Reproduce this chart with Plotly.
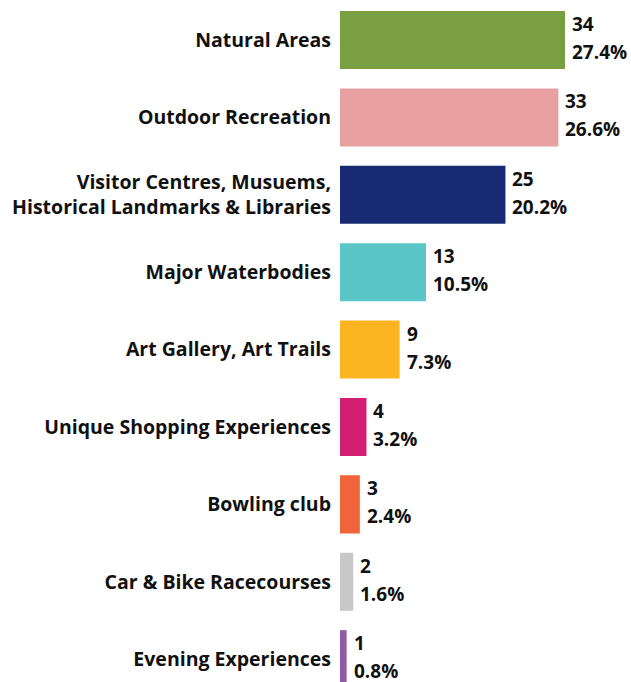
import plotly.graph_objects as go

categories = [
    "Natural Areas",
    "Outdoor Recreation",
    "Visitor Centres, Musuems,<br>Historical Landmarks & Libraries",
    "Major Waterbodies",
    "Art Gallery, Art Trails",
    "Unique Shopping Experiences",
    "Bowling club",
    "Car & Bike Racecourses",
    "Evening Experiences",
]
counts = [34, 33, 25, 13, 9, 4, 3, 2, 1]
percents = ["27.4%", "26.6%", "20.2%", "10.5%", "7.3%", "3.2%", "2.4%", "1.6%", "0.8%"]
colors = ["#7A9F43", "#E8A0A0", "#182A73", "#5BC6C8", "#FDB421",
          "#D41E72", "#F0643A", "#C8C8C8", "#8E5BA5"]

FONT = "Open Sans"
SIZE = 20

fig = go.Figure(go.Bar(
    x=counts, y=categories, orientation="h",
    marker=dict(color=colors, line=dict(width=0)),
    hoverinfo="skip",
))

for c, v, p in zip(categories, counts, percents):
    fig.add_annotation(x=v, y=c, text=f"<b>{v}</b>", showarrow=False,
                       xanchor="left", yanchor="middle", xshift=5, yshift=16,
                       font=dict(family=FONT, size=SIZE - 1, color="#111111"))
    fig.add_annotation(x=v, y=c, text=f"<b>{p}</b>", showarrow=False,
                       xanchor="left", yanchor="middle", xshift=5, yshift=-12,
                       font=dict(family=FONT, size=SIZE - 1, color="#111111"))

fig.update_layout(
    width=631, height=682,
    margin=dict(l=340, r=0, t=0, b=0),
    paper_bgcolor="white", plot_bgcolor="white",
    bargap=0.25, showlegend=False,
    font=dict(family=FONT, size=SIZE, color="#111111"),
)
fig.update_xaxes(range=[0, 43.97], visible=False)
fig.update_yaxes(
    range=[8.295, -0.517],
    tickmode="array", tickvals=categories,
    ticktext=[f"<b>{t}</b>".replace("<br>", "</b><br><b>") for t in categories],
    showgrid=False, zeroline=False, showline=False, ticks="",
    ticklabelstandoff=8,
    tickfont=dict(family=FONT, size=SIZE - 0.5, color="#111111"),
)

fig.write_html(
    "out.html",
    config={"displayModeBar": False, "staticPlot": True},
    post_script="document.body.style.margin='0';document.body.style.overflow='hidden';",
)
